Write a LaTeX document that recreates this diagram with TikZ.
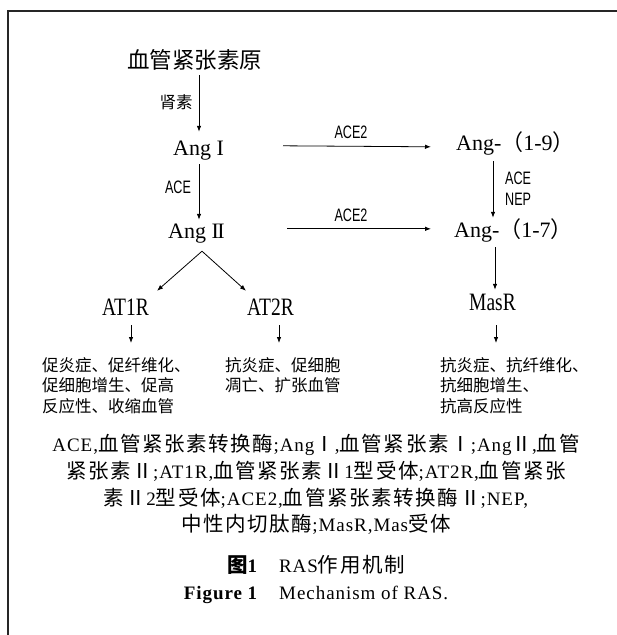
\documentclass[tikz,border=0pt]{standalone}
\usepackage{fontspec}
\setmainfont{Liberation Serif}
\newfontfamily\cjk{Noto Sans CJK SC}
\newfontfamily\cjkcap[LetterSpace=8]{Noto Sans CJK SC}
\newfontfamily\latcap[LetterSpace=5]{Liberation Serif}
\newfontfamily\latti[LetterSpace=5]{Liberation Serif}
\newfontfamily\enz[FakeStretch=0.7]{Liberation Sans}
\newfontfamily\rec[FakeStretch=0.78]{Liberation Serif}
\usetikzlibrary{arrows.meta,calc}
\newcommand\C[1]{{\cjkcap\fontsize{20.5}{21}\selectfont #1}}
\begin{document}
\begin{tikzpicture}[x=1pt,y=-1pt,
  arr/.style={-{Latex[length=6pt,width=4.5pt]}, line width=0.8pt},
  serifnode/.style={inner sep=0pt, anchor=base west, font=\fontsize{22}{26}\selectfont, text height=15pt, text depth=5pt},
  recnode/.style={inner sep=0pt, anchor=base west, font=\rec\fontsize{25}{28}\selectfont, text height=17pt, text depth=0pt},
  cjkbig/.style={inner sep=0pt, anchor=base west, font=\cjk\fontsize{22.5}{26}\selectfont, text height=19pt, text depth=3pt},
  enzlabel/.style={inner sep=0pt, font=\enz\fontsize{18}{20}\selectfont},
  cjklabel/.style={inner sep=0pt, font=\cjk\fontsize{16.5}{20}\selectfont},
  efftext/.style={inner sep=0pt, anchor=north west, align=left, font=\cjk\fontsize{16.5}{20.5}\selectfont},
  capline/.style={inner sep=0pt, anchor=base, font=\latcap\fontsize{19}{21}\selectfont},
  titleline/.style={inner sep=0pt, anchor=base, font=\latti\fontsize{19}{21}\selectfont},
]
\useasboundingbox (0,0) rectangle (617,635);
\fill[white] (0,0) rectangle (617,635);
\draw[line width=2pt, black!85] (8,636) -- (8,11) -- (618,11);

% main nodes
\node[cjkbig] (prec) at (127,68.5) {血管紧张素原};
\node[serifnode] (ang1) at (173,155) {Ang I};
\node[serifnode] (ang2) at (168,238) {Ang I\kern-1.5ptI};
\node[serifnode] (a19) at (456,150) {Ang-{\cjk （}1-9{\cjk ）}};
\node[serifnode] (a17) at (454,237) {Ang-{\cjk （}1-7{\cjk ）}};
\node[recnode] (at1r) at (102,315) {AT1R};
\node[recnode] (at2r) at (247,315) {AT2R};
\node[recnode] (masr) at (469,310) {MasR};

% labels
\node[cjklabel] (renin) at (176,102) {肾素};
\node[enzlabel] (ace1) at (178,187) {ACE};
\node[enzlabel] (ace2a) at (351,132) {ACE2};
\node[enzlabel] (ace2b) at (351,215) {ACE2};
\node[enzlabel, anchor=west] (acer) at (505,178) {ACE};
\node[enzlabel, anchor=west] (nep) at (505,199) {NEP};

% effects
\node[efftext] (eff1) at (42,357) {促炎症、促纤维化、\\促细胞增生、促高\\反应性、收缩血管};
\node[efftext] (eff2) at (225,357) {抗炎症、促细胞\\凋亡、扩张血管};
\node[efftext] (eff3) at (440,357) {抗炎症、抗纤维化、\\抗细胞增生、\\抗高反应性};

% connectors
\draw[arr] ($(prec.south west)+(72,3.5)$) -- ($(ang1.north west)+(26,-8)$);
\draw[arr] ($(ang1.south west)+(26,4)$) -- ($(ang2.north west)+(31,-3)$);
\draw[arr] ($(ang1.north west)+(110,6)$) -- ($(a19.north west)+(-25,12)$);
\draw[arr] ($(ang2.north west)+(119,6)$) -- ($(a17.north west)+(-23,7)$);
\draw[arr] ($(a19.south west)+(37,6)$) -- ($(a17.north west)+(39,-4)$);
\draw[arr] ($(a17.south west)+(41,5)$) -- ($(masr.north west)+(26,-3)$);
\draw[arr] ($(ang2.south west)+(34,8)$) -- ($(at1r.north west)+(55,-7)$);
\draw[arr] ($(ang2.south west)+(34,8)$) -- ($(at2r.north west)+(-1,-7)$);
\draw[arr] ($(at1r.south west)+(29,10)$) -- ($(eff1.north west)+(89,-14)$);
\draw[arr] ($(at2r.south west)+(32,10)$) -- ($(eff2.north west)+(54,-14)$);
\draw[arr] ($(masr.south west)+(27,15)$) -- ($(eff3.north west)+(56,-14)$);

% caption
\node[capline] (cap1) at (316,451) {ACE,\C{血管紧张素转换酶};Ang\C{Ⅰ},\C{血管紧张素Ⅰ};Ang\C{Ⅱ},\C{血管}};
\node[capline] (cap2) at (316,478) {\C{紧张素Ⅱ};AT1R,\C{血管紧张素Ⅱ}1\C{型受体};AT2R,\C{血管紧张}};
\node[capline] (cap3) at (316,505) {\C{素Ⅱ}2\C{型受体};ACE2,\C{血管紧张素转换酶Ⅱ};NEP,};
\node[capline] (cap4) at (316,531) {\C{中性内切肽酶};MasR,Mas\C{受体}};
\node[titleline] (title) at (316,572) {{\cjkcap\bfseries\fontsize{20.5}{21}\selectfont 图}{\bfseries 1}\hspace{22pt}RAS\C{作用机制}};
\node[titleline] (figen) at (316,599) {{\bfseries Figure 1}\hspace{22pt}Mechanism of RAS.};
\end{tikzpicture}
\end{document}
